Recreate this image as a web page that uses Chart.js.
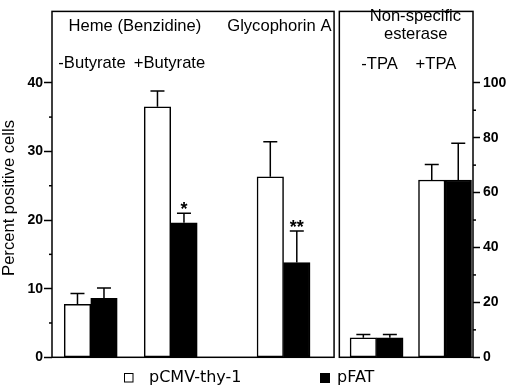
<!DOCTYPE html>
<html>
<head>
<meta charset="utf-8">
<script src="https://cdn.jsdelivr.net/npm/chart.js@4.4.0/dist/chart.umd.min.js"></script>
<style>
 body { margin: 0; background: #fff; }
 #wrap { width: 520px; height: 390px; }
</style>
</head>
<body>
<div id="wrap"><canvas id="percent-canvas" width="520" height="390"></canvas></div>
<script>
// values
var leftGroups = ["-Butyrate", "+Butyrate", "Glycophorin A"];
var rightGroups = ["-TPA", "+TPA"];
var seriesNames = ["pCMV-thy-1", "pFAT"];

var cmvLeft = [7.7, 36.5, 26.3];
var cmvLeftErr = [1.6, 2.3, 5.1];
var fatLeft = [8.6, 19.6, 13.8];
var fatLeftErr = [1.5, 1.4, 4.6];

var cmvRight = [7.1, 64.6];
var cmvRightErr = [1.2, 5.6];
var fatRight = [7.1, 64.6];
var fatRightErr = [1.2, 13.4];

var fatStars = ["", "*", "**"];

var leftTicks = [0, 10, 20, 30, 40];
var rightTicks = [0, 20, 40, 60, 80, 100];

// layout (x axis runs 0..100 across both panels)
var leftPos = [9.2, 28.2, 55.0];
var rightPos = [77.1, 93.35];
var leftPanelEnd = 67.0;
var rightPanelStart = 68.25;

var headings = [
 { text: "Heme (Benzidine)", x: 19.7, y: 30.5 },
 { text: "Glycophorin A", x: 54.0, y: 30.5 },
 { text: "-Butyrate", x: 9.5, y: 68.3 },
 { text: "+Butyrate", x: 27.9, y: 68.3 },
 { text: "Non-specific", x: 86.3, y: 20.7 },
 { text: "esterase", x: 86.4, y: 39.3 },
 { text: "-TPA", x: 77.8, y: 69 },
 { text: "+TPA", x: 91.2, y: 69 },
];

var textFont = '16.6px "Liberation Sans", Arial, sans-serif';
var tickFont = { family: '"Liberation Sans", Arial, sans-serif', size: 14, weight: "bold" };

function points(pos, vals) {
 return vals.map(function (v, i) {
  return { x: pos[i], y: v };
 });
}

function withMinor(major) {
 var out = [];
 major.forEach(function (v, i) {
  out.push({ value: v });
  if (i < major.length - 1) out.push({ value: (v + major[i + 1]) / 2 });
 });
 return out;
}

function barSet(name, vals, errs, pos, axis, fill) {
 return {
  label: name,
  data: points(pos, vals),
  err: errs,
  yAxisID: axis,
  stack: name,
  backgroundColor: fill,
  borderColor: "#000",
  borderWidth: 1.5,
  borderSkipped: false,
  barThickness: 26.5,
 };
}

var panelPlugin = {
 id: "panels",
 afterDatasetsDraw: function (chart) {
  var ctx = chart.ctx;
  var area = chart.chartArea;
  var xs = chart.scales.x;
  ctx.save();
  ctx.strokeStyle = "#000";
  ctx.lineWidth = 1.5;

  // error bars + significance marks
  chart.data.datasets.forEach(function (ds, di) {
   var meta = chart.getDatasetMeta(di);
   var ys = chart.scales[ds.yAxisID];
   meta.data.forEach(function (bar, i) {
    var top = ys.getPixelForValue(ds.data[i].y + ds.err[i]);
    ctx.beginPath();
    ctx.moveTo(bar.x, bar.y);
    ctx.lineTo(bar.x, top);
    ctx.moveTo(bar.x - 7, top);
    ctx.lineTo(bar.x + 7, top);
    ctx.stroke();
    if (di === 1 && fatStars[i]) {
     ctx.fillStyle = "#000";
     ctx.font = 'bold 18px "Liberation Sans", Arial, sans-serif';
     ctx.textAlign = "center";
     ctx.textBaseline = "alphabetic";
     ctx.fillText(fatStars[i], bar.x, top + 2);
    }
   });
  });

  // panel frames
  var x1 = xs.getPixelForValue(leftPanelEnd);
  var x2 = xs.getPixelForValue(rightPanelStart);
  ctx.strokeRect(area.left, area.top, x1 - area.left, area.bottom - area.top);
  ctx.strokeRect(x2, area.top, area.right - x2, area.bottom - area.top);

  // minor ticks
  ["y", "y2"].forEach(function (id) {
   var s = chart.scales[id];
   var major = id === "y" ? leftTicks : rightTicks;
   s.ticks.forEach(function (t) {
    if (major.indexOf(t.value) >= 0) return;
    var py = s.getPixelForValue(t.value);
    ctx.beginPath();
    if (id === "y") {
     ctx.moveTo(area.left - 3, py);
     ctx.lineTo(area.left, py);
    } else {
     ctx.moveTo(area.right, py);
     ctx.lineTo(area.right + 3, py);
    }
    ctx.stroke();
   });
  });
  ctx.restore();
 },
 afterDraw: function (chart) {
  var ctx = chart.ctx;
  var xs = chart.scales.x;
  ctx.save();
  ctx.fillStyle = "#000";
  ctx.font = textFont;
  ctx.textAlign = "center";
  ctx.textBaseline = "alphabetic";
  headings.forEach(function (h) {
   ctx.fillText(h.text, xs.getPixelForValue(h.x), h.y);
  });

  // y axis title
  ctx.save();
  ctx.translate(14, 198);
  ctx.rotate(-Math.PI / 2);
  ctx.fillText("Percent positive cells", 0, 0);
  ctx.restore();

  // legend
  ctx.lineWidth = 1;
  ctx.strokeStyle = "#000";
  ctx.fillStyle = "#fff";
  ctx.fillRect(124.5, 373.5, 8.5, 8.5);
  ctx.strokeRect(124.5, 373.5, 8.5, 8.5);
  ctx.fillStyle = "#000";
  ctx.fillRect(320, 373, 10, 10);
  ctx.font = '16px "DejaVu Sans", Verdana, sans-serif';
  ctx.textAlign = "left";
  ctx.fillText(seriesNames[0], 149, 382.3);
  ctx.fillText(seriesNames[1], 337, 382.3);
  ctx.restore();
 },
};

new Chart(document.getElementById("percent-canvas"), {
 type: "bar",
 data: {
  datasets: [
   barSet(seriesNames[0], cmvLeft, cmvLeftErr, leftPos, "y", "#fff"),
   barSet(seriesNames[1], fatLeft, fatLeftErr, leftPos, "y", "#000"),
   barSet(seriesNames[0], cmvRight, cmvRightErr, rightPos, "y2", "#fff"),
   barSet(seriesNames[1], fatRight, fatRightErr, rightPos, "y2", "#000"),
  ],
 },
 options: {
  responsive: false,
  animation: false,
  layout: { padding: { top: 2, bottom: 32.7, left: 0, right: 0 } },
  plugins: {
   legend: { display: false },
   tooltip: { enabled: false },
  },
  scales: {
   x: { type: "linear", min: 0, max: 100, offset: false, display: false },
   y: {
    position: "left",
    min: 0,
    max: 50.4,
    stacked: false,
    border: { display: false },
    afterBuildTicks: function (scale) {
     scale.ticks = withMinor(leftTicks);
    },
    afterFit: function (scale) {
     scale.width = 52;
    },
    grid: {
     drawOnChartArea: false,
     tickLength: 8,
     tickWidth: 1.5,
     tickColor: function (c) {
      return leftTicks.indexOf(c.tick.value) >= 0 ? "#000" : "rgba(0,0,0,0)";
     },
    },
    ticks: {
     padding: 1,
     color: "#000",
     font: tickFont,
     callback: function (v) {
      return leftTicks.indexOf(v) >= 0 ? v : "";
     },
    },
   },
   y2: {
    position: "right",
    min: 0,
    max: 126,
    stacked: false,
    border: { display: false },
    afterBuildTicks: function (scale) {
     scale.ticks = withMinor(rightTicks);
    },
    afterFit: function (scale) {
     scale.width = 47;
    },
    grid: {
     drawOnChartArea: false,
     tickLength: 7,
     tickWidth: 1.5,
     tickColor: function (c) {
      return rightTicks.indexOf(c.tick.value) >= 0 ? "#000" : "rgba(0,0,0,0)";
     },
    },
    ticks: {
     padding: 3,
     color: "#000",
     font: tickFont,
     callback: function (v) {
      return rightTicks.indexOf(v) >= 0 ? v : "";
     },
    },
   },
  },
 },
 plugins: [panelPlugin],
});
</script>
</body>
</html>
